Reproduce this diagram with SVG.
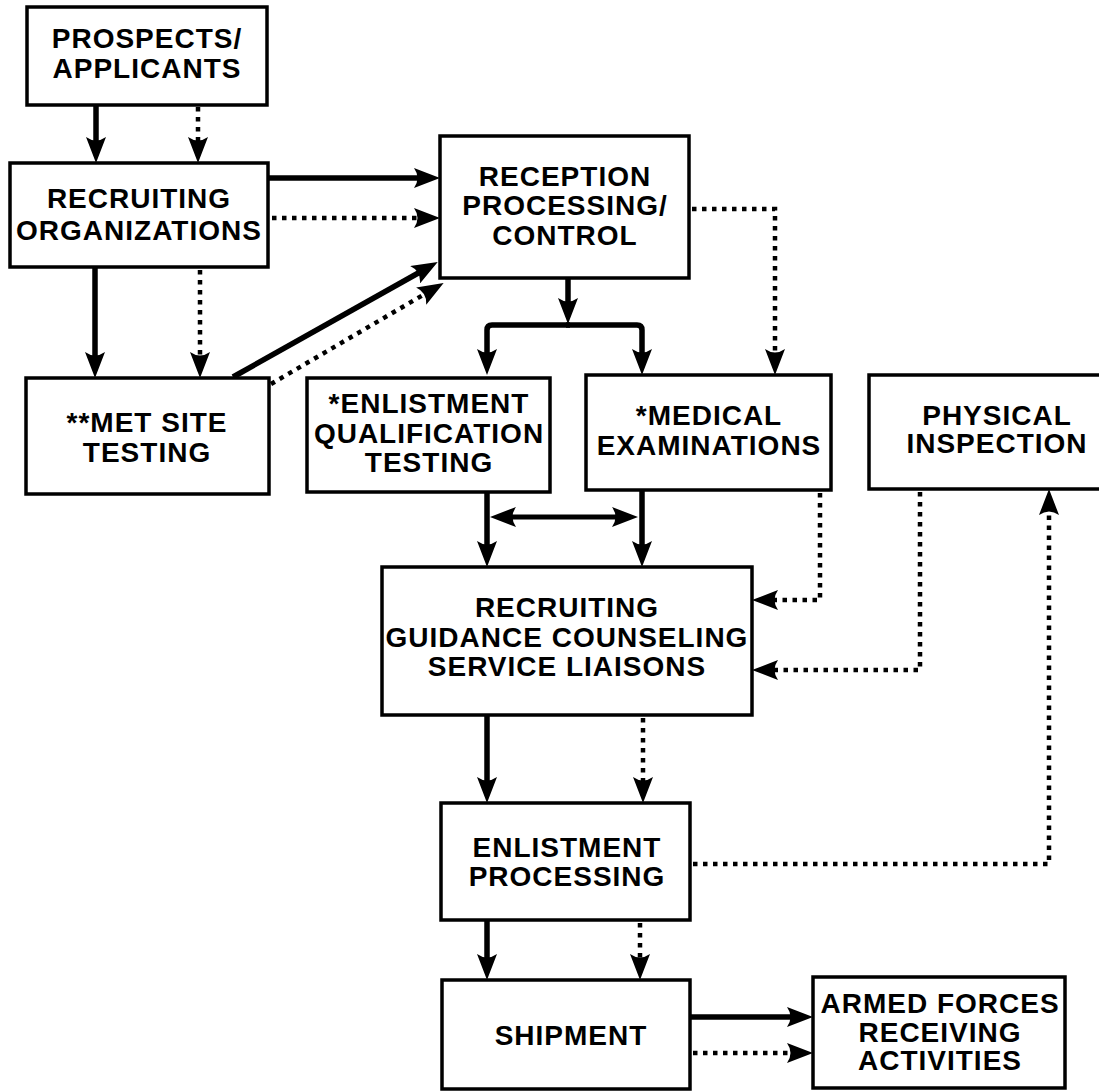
<svg xmlns="http://www.w3.org/2000/svg" width="1099" height="1092" viewBox="0 0 1099 1092">
<style>
.box{fill:#fff;stroke:#000;stroke-width:3.5}
.lbl{font-family:"Liberation Sans",Arial,Helvetica,sans-serif;font-weight:bold;font-size:28px;letter-spacing:1px;fill:#000;text-anchor:middle}
.sol{fill:none;stroke:#000;stroke-width:5.5;marker-end:url(#ah)}
.dot{fill:none;stroke:#000;stroke-width:4.5;stroke-dasharray:4.5 5.5;marker-end:url(#ah)}
</style>
<defs>
<marker id="ah" markerUnits="userSpaceOnUse" viewBox="0 0 26 20" markerWidth="26" markerHeight="20" refX="16" refY="10" orient="auto-start-reverse">
<path d="M0,0 Q7,10 0,20 L26,10 Z" fill="#000"/>
</marker>
</defs>
<rect width="1099" height="1092" fill="#fff"/>

<g id="connectors">
<path class="sol" d="M96,105 V153"/>
<path class="dot" d="M198,107 V153"/>
<path class="sol" d="M95,268 V368"/>
<path class="dot" d="M200,270 V368"/>
<path class="sol" d="M268,178 H430"/>
<path class="dot" d="M272,218 H430"/>
<path class="sol" d="M233,377 L429,267"/>
<path class="dot" d="M271,384 L435,288"/>
<path class="sol" d="M568,278 V314"/>
<path class="sol" d="M570,325 H492 Q487,325 487,330 V365"/>
<path class="sol" d="M566,325 H637 Q642,325 642,330 V365"/>
<path class="dot" d="M692,209 H775 V365"/>
<path class="sol" d="M487,492 V557"/>
<path class="sol" d="M642,490 V557"/>
<path class="sol" style="stroke-width:5;marker-start:url(#ah)" d="M500,517 H628"/>
<path class="dot" d="M820,493 V600 H762"/>
<path class="dot" d="M920,492 V670 H762"/>
<path class="sol" d="M487,715 V793"/>
<path class="dot" d="M643,718 V793"/>
<path class="dot" d="M693,864 H1049 V499"/>
<path class="sol" d="M487,920 V970"/>
<path class="dot" d="M640,923 V970"/>
<path class="sol" d="M690,1017 H803"/>
<path class="dot" d="M693,1053 H803"/>
</g>

<g id="prospects">
<rect class="box" x="27" y="7" width="240" height="98"/>
<text class="lbl" x="147" y="48">PROSPECTS/</text>
<text class="lbl" x="147" y="78">APPLICANTS</text>
</g>
<g id="recruiting-organizations">
<rect class="box" x="10" y="163" width="258" height="104"/>
<text class="lbl" x="139" y="208">RECRUITING</text>
<text class="lbl" x="139" y="240">ORGANIZATIONS</text>
</g>
<g id="reception">
<rect class="box" x="440" y="136" width="249" height="142"/>
<text class="lbl" x="565" y="186">RECEPTION</text>
<text class="lbl" x="565" y="215">PROCESSING/</text>
<text class="lbl" x="565" y="245">CONTROL</text>
</g>
<g id="met-site">
<rect class="box" x="26" y="378" width="243" height="116"/>
<text class="lbl" x="147" y="432">**MET SITE</text>
<text class="lbl" x="147" y="462">TESTING</text>
</g>
<g id="enlistment-qualification">
<rect class="box" x="307" y="378" width="243" height="114"/>
<text class="lbl" x="429" y="413">*ENLISTMENT</text>
<text class="lbl" x="429" y="443">QUALIFICATION</text>
<text class="lbl" x="429" y="472">TESTING</text>
</g>
<g id="medical">
<rect class="box" x="586" y="375" width="245" height="115"/>
<text class="lbl" x="709" y="425">*MEDICAL</text>
<text class="lbl" x="709" y="455">EXAMINATIONS</text>
</g>
<g id="physical">
<rect class="box" x="869" y="375" width="260" height="114"/>
<text class="lbl" x="997" y="425">PHYSICAL</text>
<text class="lbl" x="997" y="453">INSPECTION</text>
</g>
<g id="guidance">
<rect class="box" x="382" y="567" width="370" height="148"/>
<text class="lbl" x="567" y="617">RECRUITING</text>
<text class="lbl" x="567" y="647">GUIDANCE COUNSELING</text>
<text class="lbl" x="567" y="676">SERVICE LIAISONS</text>
</g>
<g id="enlistment-processing">
<rect class="box" x="441" y="803" width="249" height="117"/>
<text class="lbl" x="567" y="857">ENLISTMENT</text>
<text class="lbl" x="567" y="886">PROCESSING</text>
</g>
<g id="shipment">
<rect class="box" x="442" y="980" width="248" height="109"/>
<text class="lbl" x="571" y="1045">SHIPMENT</text>
</g>
<g id="armed-forces">
<rect class="box" x="813" y="977" width="252" height="111"/>
<text class="lbl" x="940" y="1013">ARMED FORCES</text>
<text class="lbl" x="940" y="1042">RECEIVING</text>
<text class="lbl" x="940" y="1070">ACTIVITIES</text>
</g>
</svg>
